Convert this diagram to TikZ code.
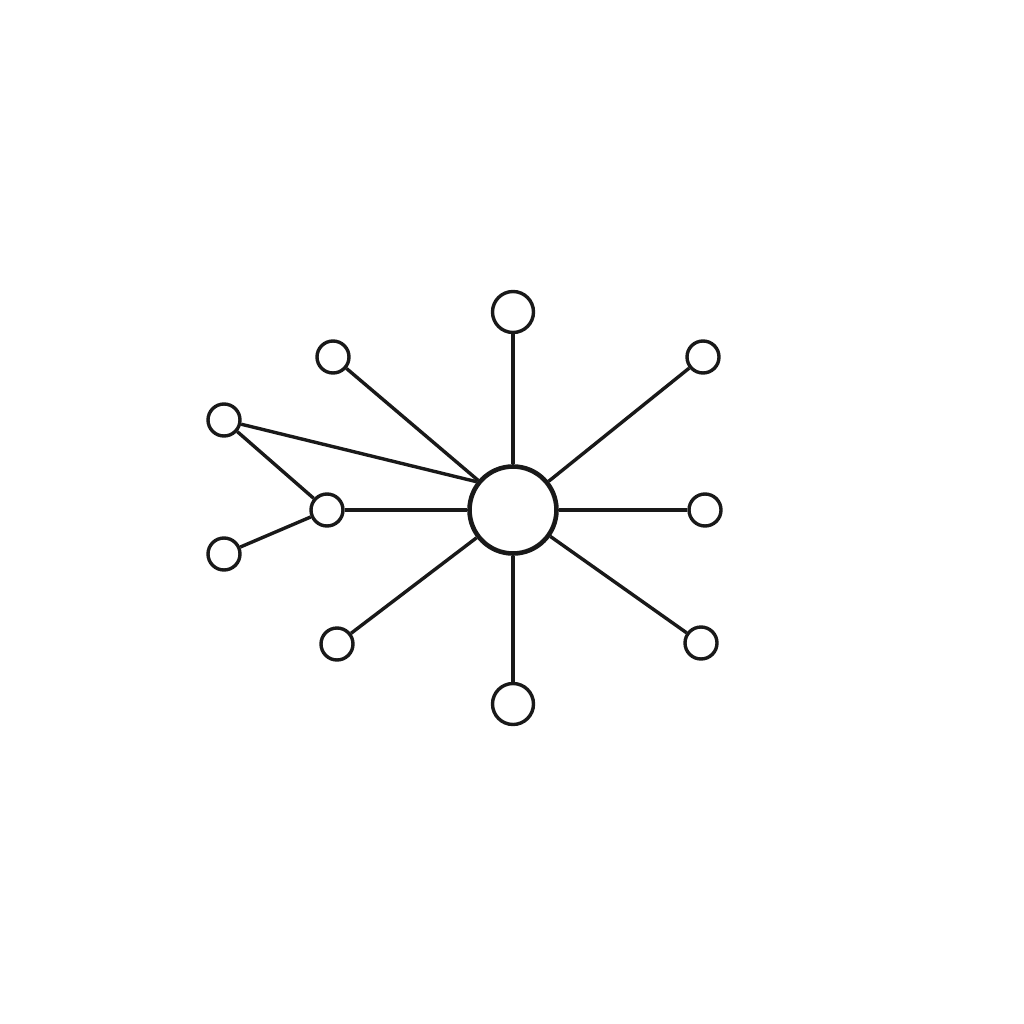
\documentclass[tikz,border=0pt]{standalone}
\begin{document}
\begin{tikzpicture}[x=1pt,y=-1pt,
  edge/.style={draw=black!90, line width=3.4pt},
  hubnode/.style={circle, draw=black!90, line width=4.6pt, fill=white, minimum size=87pt, inner sep=0pt},
  bignode/.style={circle, draw=black!90, line width=3.4pt, fill=white, minimum size=41pt, inner sep=0pt},
  leaf/.style={circle, draw=black!90, line width=3.4pt, fill=white, minimum size=32pt, inner sep=0pt}]
\useasboundingbox (0,0) rectangle (1024,1024);
\fill[white] (0,0) rectangle (1024,1024);
\node[hubnode] (hub) at (513,510) {};
\node[bignode] (t) at (513,312) {};
\node[bignode] (b) at (513,704) {};
\node[leaf] (tl) at (333,357) {};
\node[leaf] (tr) at (703,357) {};
\node[leaf] (r) at (705,510) {};
\node[leaf] (br) at (701,643) {};
\node[leaf] (bl) at (337,644) {};
\node[leaf] (lm) at (327,510) {};
\node[leaf] (flt) at (224,420) {};
\node[leaf] (flb) at (224,554) {};
\draw[edge] (hub) -- (t);
\draw[edge] (hub) -- (b);
\draw[edge] (hub) -- (tl);
\draw[edge] (hub) -- (tr);
\draw[edge] (hub) -- (r);
\draw[edge] (hub) -- (br);
\draw[edge] (hub) -- (bl);
\draw[edge] (hub) -- (lm);
\draw[edge] (hub.142) -- (flt);
\draw[edge] (flt) -- (lm);
\draw[edge] (flb) -- (lm);
\end{tikzpicture}
\end{document}
